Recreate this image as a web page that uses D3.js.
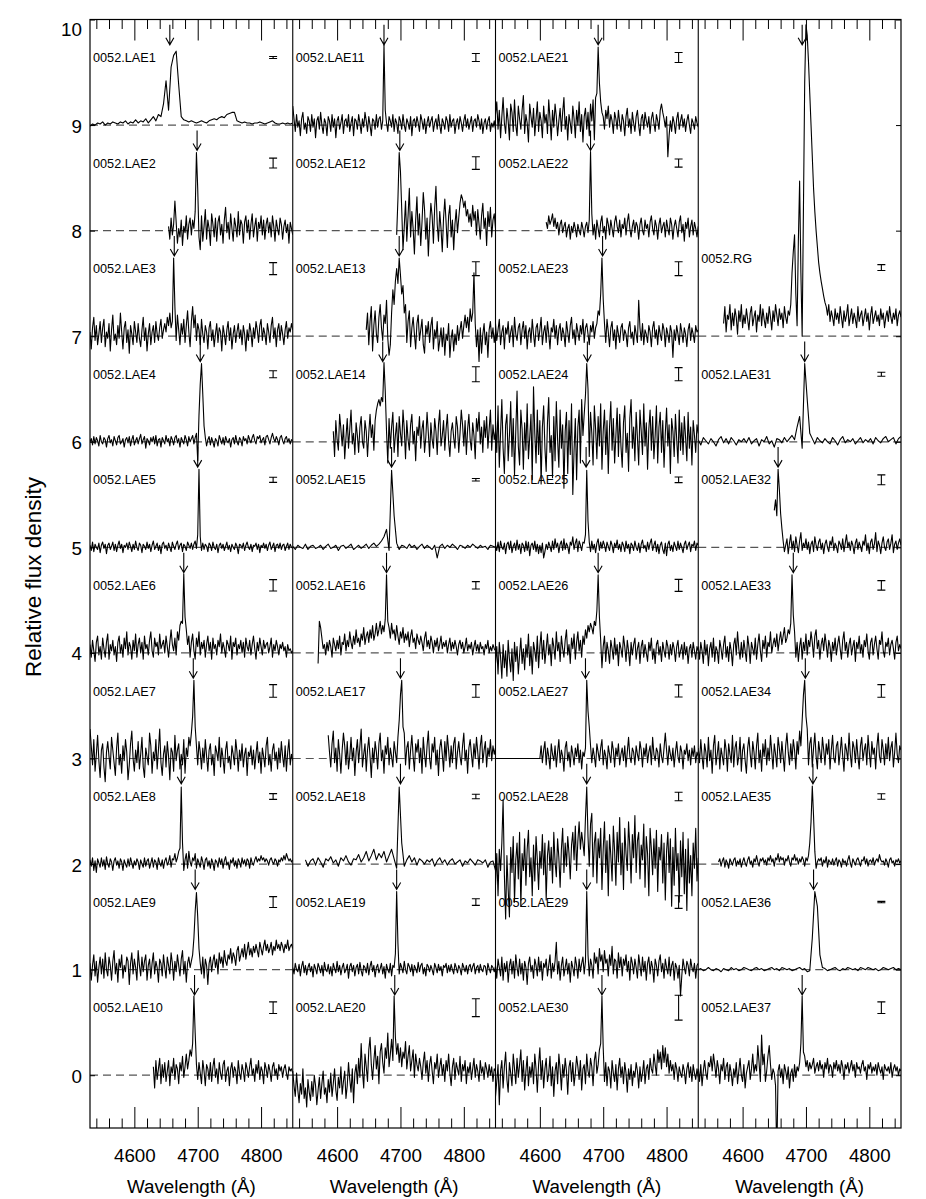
<!DOCTYPE html>
<html><head><meta charset="utf-8">
<script src="https://cdn.jsdelivr.net/npm/d3@7"></script>
<style>body{margin:0;background:#fff}svg{display:block}text{font-family:"Liberation Sans",Arial,Helvetica,sans-serif;fill:#000}</style>
</head><body><svg id="c" width="926" height="1199"></svg>
<script>
// ---------------- data ----------------
const names = ["0052.LAE1","0052.LAE2","0052.LAE3","0052.LAE4","0052.LAE5","0052.LAE6","0052.LAE7","0052.LAE8","0052.LAE9","0052.LAE10",
"0052.LAE11","0052.LAE12","0052.LAE13","0052.LAE14","0052.LAE15","0052.LAE16","0052.LAE17","0052.LAE18","0052.LAE19","0052.LAE20",
"0052.LAE21","0052.LAE22","0052.LAE23","0052.LAE24","0052.LAE25","0052.LAE26","0052.LAE27","0052.LAE28","0052.LAE29","0052.LAE30",
"0052.RG","0052.LAE31","0052.LAE32","0052.LAE33","0052.LAE34","0052.LAE35","0052.LAE36","0052.LAE37"];
const panelOf = [0,0,0,0,0,0,0,0,0,0, 1,1,1,1,1,1,1,1,1,1, 2,2,2,2,2,2,2,2,2,2, 3,3,3,3,3,3,3,3];
const baselines = [9,8,7,6,5,4,3,2,1,0, 9,8,7,6,5,4,3,2,1,0, 9,8,7,6,5,4,3,2,1,0, 7,6,5,4,3,2,1,0];
// wavelength (Å) of the Lyα line marked by the arrow
const lineWave = [4656,4699,4663,4704,4700,4678,4693,4674,4696,4695,
4674,4699,4698,4672,4686,4678,4700,4700,4694,4691,
4692,4680,4699,4675,4673,4692,4672,4674,4674,4698,
4694,4698,4656,4680,4699,4711,4712,4694];
// arrow tip height above the baseline (flux units)
const arrowLevel = [0.76,0.76,0.76,0.76,0.76,0.76,0.76,0.76,0.76,0.76, 0.76,0.76,0.76,0.76,0.76,0.76,0.76,0.76,0.76,0.76,
0.76,0.76,0.76,0.76,0.76,0.76,0.76,0.76,0.76,0.76, 2.76,0.76,0.76,0.76,0.76,0.76,0.76,0.76];
// half-size of the 1-sigma error bar (flux units)
const errHalf = [0.01,0.047,0.057,0.033,0.024,0.054,0.06,0.027,0.052,0.055,
0.038,0.06,0.066,0.071,0.012,0.035,0.06,0.021,0.031,0.085,
0.047,0.038,0.066,0.062,0.027,0.057,0.057,0.04,0.06,0.118,
0.028,0.019,0.047,0.045,0.06,0.026,0.007,0.055];
// first wavelength of each spectrum (Å) and sampling step (Å)
const startWave = [4530,4654,4530,4530,4530,4530,4530,4530,4530,4630,
4530,4694,4646,4594,4530,4570,4586,4550,4530,4530,
4530,4610,4530,4530,4530,4530,4530,4530,4530,4530,
4570,4530,4650,4530,4530,4562,4530,4530];
const sampleStep = [4,2,2,2,2,2,2,2,2,2, 2,2,2,2,4,2,2,4,2,2, 2,2,2,2,2,2,2,2,2,2, 2,4,2,2,2,2,4,2];
// relative flux above baseline, in units of 0.01
const flux = [
[-1,1,0,2,1,3,0,2,1,3, 2,1,3,2,4,1,3,2,5,2, 4,3,6,2,5,8,4,10,8,20, 42,14,55,66,70,38,8,5,4,3, 4,3,2,3,4,3,2,4,5,6, 5,7,8,7,10,11,12,12,4,3, 2,3,2,2,1,2,2,3,2,1, 2,3,4,2,1,1,2,1,2,1, 2],
[4,-8,12,-4,6,28,8,-12,2,-6, 10,-14,4,-2,14,-8,6,12,-4,10, 2,18,74,40,-6,-18,14,-10,4,20, -8,10,2,-14,16,6,-6,12,-10,8, 14,-4,6,-12,10,22,-2,8,-8,16, 2,-10,12,4,-6,18,-4,10,6,-12, 8,14,-2,10,-8,6,16,-6,4,12, -10,8,2,14,-4,10,-8,6,12,-2, 8,-6,14,4,-10,10,2,-4,12,6, -8,4,10,-2,6,-12,8,2,-4],
[4,-12,8,18,-4,10,-8,2,14,-6, 8,16,-10,4,-2,12,-14,6,20,-4, 2,-8,10,-2,22,4,-12,8,14,-6, 6,-16,10,2,-8,14,4,-6,12,-2, -10,6,18,-4,8,-14,2,12,-8,4, 10,-6,14,2,-4,8,16,-2,6,12, 4,18,10,22,8,14,74,28,-4,20, 6,-8,12,2,16,-6,10,24,4,-10,
 14,28,8,20,-4,12,6,-8,16,2, -6,10,4,-12,8,14,-4,6,-10,2, 12,-6,8,4,-14,10,2,-8,6,14, -4,8,-12,2,10,-6,4,12,-2,6, -8,10,2,-14,6,-4,12,4,-10,8, -2,14,6,-6,10,16,-4,8,2,-8, 12,4,-6,10,18,-2,8,-10,6,12, -4,10,2,-8,6,14,-2,8,4,12,6],
[0,3,-3,5,-2,4,1,-4,6,0, -2,4,2,-5,3,6,-1,2,-4,5, 1,-3,4,6,-2,0,3,-5,2,4, -1,5,-4,2,6,-3,1,4,-2,3, 7,-2,2,5,-6,3,1,-3,4,0, 5,-2,6,-4,2,3,-5,4,1,-2, 6,0,3,-4,5,2,-3,4,6,-1, 3,-5,4,1,-2,6,2,-4,5,0,
 3,6,-2,4,8,-18,25,55,74,45, 15,4,-4,2,5,-3,4,0,-5,3, 1,-4,6,2,-2,4,-3,5,1,-1, 3,-5,2,4,-2,6,0,-3,4,2, -4,5,1,3,-2,6,2,-1,4,7, 1,-2,5,3,6,-1,2,4,-3,5, 6,2,-2,4,8,3,0,5,2,-3, 4,6,1,-2,3,5,0,3,-2,2,1],
[2,-3,5,-4,3,0,-2,4,-5,2, 5,-1,3,-6,2,4,-2,1,5,-3, 3,-4,2,6,-1,3,-5,2,0,4, -2,5,1,-4,3,-2,6,0,-3,4, 2,-5,3,1,-2,5,-1,3,-4,2, 6,-2,1,4,-3,2,-6,3,5,-1, 2,-3,4,0,-4,5,1,-2,3,6, -2,2,4,-4,3,1,-3,5,2,-1,
 4,-2,3,6,-1,12,74,10,-3,4, -2,3,1,-4,4,2,-3,5,0,-2, 3,-5,2,4,-1,3,-3,1,5,-2, 2,-4,3,0,-2,4,1,-6,3,2, -1,4,-3,2,5,0,-2,3,-4,2, 1,4,-2,3,-5,2,0,4,-1,3, -3,2,5,-2,1,4,-4,2,3,-1, 4,-2,2,3,-3,1,4,-2,3,0,-1],
[8,-4,12,2,-8,10,16,-2,6,-6, 14,4,-4,10,18,-6,8,2,12,-2, 6,-8,10,16,0,8,-4,14,4,20, -2,10,6,-6,12,2,18,-4,8,14, 0,10,-6,16,4,8,-2,12,20,2, -4,14,6,10,-2,18,4,8,12,0, 16,6,-4,10,22,8,2,14,-2,20, 12,26,30,28,75,34,22,8,16,-4,
 10,18,2,-6,14,6,20,-2,10,4, 12,-4,8,16,2,10,-6,14,4,8, -2,12,6,18,0,10,4,-4,12,8, 2,16,-6,10,6,14,-2,8,4,12, 0,10,-4,14,6,2,12,-2,8,16, 4,-6,10,2,14,6,-2,12,4,8, 10,0,6,14,-4,8,2,12,6,-2, 8,4,10,2,6,-4,8,2,4,0,2],
[28,12,-6,18,-12,4,22,-2,-18,8, 14,-8,-22,6,16,2,-10,20,8,-4, -16,10,24,-6,4,-14,12,-2,18,6, -20,-6,14,26,0,-12,8,-4,16,-10, 4,20,-8,-18,10,2,-6,24,12,-14, 6,-2,18,-10,8,28,-4,-16,4,12, -8,16,2,-20,10,6,-12,22,-2,8, 14,-10,4,-6,18,-14,10,2,20,12,
 24,40,74,30,12,-6,16,6,-10,10, -4,18,2,-12,8,14,-6,4,-16,12, 6,-2,20,-8,10,0,-14,8,16,-4, 2,-10,12,4,-6,18,6,-12,8,-2, 14,-8,4,10,-16,6,2,12,-6,8, -10,4,16,-4,6,-14,10,2,-8,12, 20,-6,4,-12,8,14,-2,6,-10,10, -4,16,2,-8,12,-12,6,18,-6,4,-2],
[4,-2,6,-6,3,-8,5,1,-3,6, -2,4,-5,7,0,-3,5,2,-6,3, 6,-1,3,-4,5,2,-6,4,0,-3, 5,-2,6,1,-4,3,-1,5,2,-5, 4,0,-3,6,-2,3,5,-4,1,6, -3,4,2,-5,6,1,-2,4,-4,3, 6,-1,2,8,-3,5,4,10,2,6, 12,15,73,20,-6,4,10,-4,12,2,
 -2,6,3,10,-4,5,1,-3,7,2, -5,4,6,-2,3,-4,5,1,-6,4, 2,-3,6,0,5,-4,3,7,-1,2, -5,4,1,6,-2,3,-4,5,2,-3, 6,0,4,-2,5,3,-4,6,1,-1, 4,7,2,5,3,8,4,6,2,5, 3,-1,4,6,2,0,5,3,-2,4, 2,6,3,8,4,10,6,3,5,2,4],
[6,-10,4,14,-6,8,-12,2,12,-4, 10,-8,16,0,-6,12,4,-10,8,18, -4,6,-12,10,2,14,-8,4,-2,12, 8,-14,6,16,-4,10,2,-10,18,4, -6,12,-2,8,14,-10,4,10,-8,6, 16,-4,8,2,-12,10,6,-6,14,2, -8,12,4,-4,16,6,-10,8,-2,14, 4,-6,10,18,-4,8,-12,6,12,2,
 8,14,30,55,73,50,20,6,-4,12, -8,10,4,-14,6,12,-2,8,14,2, 10,-4,16,6,12,2,18,8,4,14, 10,20,6,16,12,4,18,22,8,14, 20,12,24,10,18,26,14,20,12,22, 16,24,18,12,26,20,14,22,28,18, 24,16,20,26,14,22,18,28,20,24, 18,26,22,16,24,20,28,18,22,24,20],
[8,-12,14,-4,6,16,-8,10,-2,12, -6,4,14,-10,8,2,16,-4,10,6, -8,12,4,18,-2,8,20,6,14,24, 18,30,75,40,10,-4,12,2,-8,14, 4,-10,10,6,-4,12,-6,8,16,-2, 6,-8,12,2,-4,10,14,-6,4,8, -10,6,12,-2,8,4,-8,14,2,-4, 10,4,-6,12,6,-2,8,16,0,6, -6,10,2,14,-4,8,4,-8,12,6, -2,10,4,-6,8,12,0,6,-4,10, 4,8,-2,6,10,2,-4,8,4,6,2],
[18,6,-6,10,-2,4,-10,6,12,-4, 2,-8,8,4,-6,10,-2,6,-12,4, 8,-4,12,0,-8,6,2,-10,8,4, -6,10,-2,6,-12,4,8,-4,2,10, -8,4,6,-2,10,-6,2,8,-10,6, 4,-4,10,2,-8,6,-2,12,4,-6, 8,0,-10,6,4,-4,10,-2,6,8, -4,4,76,14,2,-6,8,4,-2,10,
 -6,6,2,-8,8,4,-4,10,0,-6, 6,2,-4,8,-10,4,6,-2,8,2, -6,10,4,-4,6,-8,2,8,-2,4, 8,-6,2,6,-4,10,0,-8,6,2, -4,8,4,-6,10,-2,4,6,-8,2, 6,-4,8,2,-6,4,10,-2,6,-4, 2,8,-6,4,6,-2,10,4,-4,6, -8,2,6,-4,4,8,-6,2,-2,4,-4],
[-4,30,74,56,20,-18,4,28,-10,14, 40,-6,18,2,-22,10,32,-4,16,-14, 8,36,20,-8,12,-24,4,26,14,-12, 22,42,6,-10,18,2,-20,12,30,8, -16,14,24,-6,10,-18,6,20,-2,12, 26,34,30,22,28,14,20,8,16,4, 24,10,18,-4,20,6,-8,14,26,2, 12,-14,18,4,22,-6,10,16,2],
[6,22,-8,14,28,-14,10,24,2,-6, 18,30,8,-4,20,12,34,-2,-18,-8, 22,44,30,52,64,50,74,58,40,48, 22,30,-6,14,24,-10,8,18,2,-12, 12,20,-4,6,16,-8,-16,10,2,14, -6,10,18,-12,6,-2,14,-14,-4,8, -10,8,-18,2,-4,12,-20,-2,6,-14, 2,-8,10,-4,6,14,-2,10,20,8, 18,4,26,14,22,60,12,-10,6,-24, 8,-16,2,12,-8,4,-20,6,14,-2, 8,-6,4],
[10,-14,20,2,-8,26,12,-4,16,-16, 4,22,-6,12,30,-2,8,-12,18,6, -10,14,24,0,-6,20,10,-14,8,26, 4,16,-8,20,30,36,40,34,42,38, 75,48,10,-20,22,-6,14,28,-10,6, 18,-14,24,8,-4,30,12,-16,20,2, -8,16,26,-2,10,-18,14,6,24,-6, 12,20,-10,4,28,8,-14,18,2,-6, 22,10,-12,16,30,-4,6,20,-8,12, 26,0,-14,10,18,4,-6,24,14,-10, 8,30,16,-4,20,-12,12,26,2,-8, 18,6,-16,22,10,28,-2,14,-10,20, 4,24,-6,12,30,-8,16,2,10],
[1,-2,2,0,-1,3,-2,1,2,-1, 0,2,-2,1,3,-1,0,2,-3,1, 2,-1,1,3,-2,0,2,-1,1,3, -1,2,4,1,3,6,10,17,-3,73, 30,4,-2,2,1,-1,3,0,2,-2, 1,3,-1,2,0,-2,2,-10,1,3, -1,2,0,3,1,-2,2,1,-1,2, 0,3,1,-1,2,0,1,-2,2,1,0],
[-10,30,24,14,4,8,-2,10,2,12, 6,-4,14,8,2,12,4,16,-2,10, 8,18,2,12,6,20,10,4,16,8, 22,10,14,6,18,12,24,8,16,20, 10,22,14,26,12,18,28,16,22,30, 18,26,20,32,74,30,24,14,28,18, 22,12,26,16,8,20,14,24,10,18, 12,20,6,16,22,10,14,4,18,12, 8,16,10,2,14,20,6,12,4,16, 10,0,12,6,14,2,8,16,4,10, 6,12,0,8,14,2,10,4,12,6, -2,8,12,4,10,0,6,14,2,8, 4,10,-2,6,12,2,8,0,10,4, 6,-2,8,4,12,0,6,2,8,4,2],
[22,6,-8,14,26,-4,10,-12,18,4, -14,8,24,12,-6,16,-10,2,20,-2, 10,-16,6,18,-4,12,28,-8,4,14, -12,8,20,2,-18,10,-4,16,6,-10, 14,24,-2,8,-14,12,4,20,-6,10, 2,-8,16,6,-4,20,36,60,74,30, 24,-6,10,16,-10,8,22,2,-12,14, 6,18,-4,10,-14,20,4,-8,12,26, 0,-10,14,6,20,-6,8,-16,10,18, 4,-12,16,-2,22,8,-8,12,-4,14, 20,-10,6,16,2,-6,12,24,-2,8, -14,10,18,4,-8,14,0,20,6,-10, 12,22,-4,8,16,-8,10,2,18,-2, 12,4,10],
[4,-2,3,5,-1,6,2,-3,5,3, 7,1,4,-2,6,3,8,2,-1,5, 4,9,2,6,12,3,8,14,4,10, 6,12,2,8,14,5,-4,73,20,-2, 4,8,2,6,-1,5,3,0,4,2, 5,-2,3,6,1,4,-1,3,5,0, 2,4,-2,3,1,5,2,-1,4,3, 1,4,-3,2,3,-6],
[2,-4,6,0,-2,5,-6,3,8,-3, 4,-5,2,6,-2,3,-7,5,1,-4, 6,2,-3,4,-6,7,0,-2,5,-4, 3,-6,6,1,-3,8,-2,4,-5,2, 6,-3,0,5,-8,3,6,-2,4,-6, 2,5,-4,7,-1,-6,4,2,-3,6, -5,3,8,-2,4,-7,2,5,-3,1, 6,-4,3,-8,5,0,-3,6,-6,4,
 2,15,74,25,-4,6,2,-3,8,0, -4,6,3,-2,5,-6,4,1,-3,7, -2,4,6,-4,2,-6,5,3,-2,4, 0,-5,6,2,-3,5,-1,3,-6,4, 2,6,-3,4,-2,5,0,-4,6,2, -3,4,1,-5,6,2,-2,4,-4,3, 5,-2,3,6,-4,2,4,-3,5,0, -2,4,3,-5,6,1,-3,4,2,-2,3],
[4,-10,-20,2,-14,-26,-8,-18,6,-22, -12,-30,-4,-16,-24,-6,-20,0,-10,-28, -14,-2,-22,-8,4,-18,-12,-26,-4,-16, 2,-20,-8,6,-14,-24,-2,-12,8,-18, -6,4,-22,-10,12,-4,-16,6,-26,2, 10,-8,16,-2,30,4,-12,20,8,-6, 24,36,10,-4,14,28,6,18,-8,22, 30,12,2,26,16,40,8,20,34,14,
 75,36,20,30,12,26,8,22,16,32, 6,18,28,4,14,24,-2,20,10,4, 16,8,-4,12,22,2,14,-6,10,18, 4,-8,12,6,20,-2,8,16,0,10, -6,14,4,20,2,-10,8,16,-4,12, 6,0,18,-6,10,4,14,-8,8,2, 12,-4,6,16,-2,10,4,-6,14,2, 8,-4,12,6,-2,10,0,8,-6,6,4],
[10,22,-4,14,-12,8,26,2,-8,16, 4,-14,20,12,-6,24,0,-10,18,6, -4,14,28,-8,10,2,-16,20,8,-2, 16,-10,6,22,-6,12,4,-12,18,2, 10,-8,24,6,-14,14,-2,20,8,-10, 4,16,-6,12,26,-4,8,-14,10,2, -8,18,6,-12,14,0,22,-6,10,-16, 8,16,-4,12,-10,20,4,24,-14,26,
 30,74,40,22,12,8,-4,14,6,18, -2,10,4,-8,12,6,-4,14,2,-6, 10,4,-10,8,16,-2,6,-8,12,2, -6,8,14,0,-10,6,10,-4,12,4, -2,8,-8,6,12,2,-6,10,4,-4, 14,20,12,6,-2,8,-30,-10,4,-6, 8,2,-8,6,12,-4,4,10,-2,6, -6,4,10,0,-8,6,2,-4,8,2,-2],
[8,2,14,6,10,16,4,12,2,8, -4,6,10,-2,4,8,-6,2,6,-8, 4,-2,8,2,-6,6,0,-4,8,2, -6,4,8,-2,10,75,16,-4,6,-8, 10,2,-6,8,14,-2,4,-8,12,6, -4,10,2,-6,8,14,4,-2,10,-6, 6,2,12,-4,8,16,2,-6,4,10, -2,8,4,-8,6,12,0,-4,10,2, 6,-6,8,14,2,-4,10,4,-8,6, 12,-2,4,8,-6,10,2,-4,12,6, -8,4,10,2,-6,8,14,-2,6,-10, 8,2,12,-6,4,10,-4,8,2,-6,4],
[12,-4,6,16,-8,4,10,-12,8,2, 14,-6,4,10,-10,18,2,-4,8,12, -8,6,14,-2,10,-12,4,8,-6,16, 2,-10,8,12,-4,6,18,-8,4,10, -6,14,2,-12,8,4,16,-2,10,-8, 6,12,-4,8,2,-10,14,4,-6,10, 18,-2,6,-8,12,4,-4,10,2,16, -6,8,12,2,-8,10,4,14,-2,8,
 12,24,20,40,74,35,12,-6,16,4, -10,8,14,-4,6,-12,10,2,-6,8, 12,-4,6,2,-10,8,14,-2,4,-8, 10,2,-6,34,8,-4,12,-8,6,2, -6,10,4,-10,8,14,-2,6,-8,10, 2,-4,12,6,-10,8,2,-6,10,4, -20,6,-4,10,2,-8,12,4,-6,8, 2,-10,6,12,-4,8,2,-6,10,4,6],
[20,-10,34,-24,8,40,-6,-30,16,26, -18,6,38,-14,22,-32,10,48,-4,-22, 30,12,-26,18,-8,36,-16,4,26,-36, 52,8,-20,30,-12,20,-40,14,34,-6, -28,18,42,-10,6,-34,24,-18,38,2, -24,30,-6,16,-44,10,28,-30,20,-12, 36,-50,-8,22,-36,14,30,-20,40,6, 26,44,74,50,-14,28,8,-22,34,12,
 -16,24,-4,36,-26,10,30,-12,20,-30, 14,38,-8,22,-20,6,32,-14,26,-4, -24,18,34,-10,8,-28,22,40,-6,14, -18,28,4,-22,30,10,-12,36,-4,18, -26,12,30,-8,24,-16,6,34,-20,14, 28,-10,20,-24,8,32,-4,16,-30,22, 10,-14,26,2,-20,30,-8,18,-12,24, 4,-18,28,-6,14,-22,20,6,-10,16,8],
[2,-3,5,-4,6,0,-2,4,-6,3, 5,-2,6,-5,1,4,-3,7,-2,3, -6,4,2,-4,6,-3,5,-8,2,4, -2,6,-4,3,-6,2,-5,4,-10,-4, 3,-2,5,1,-4,6,-2,8,0,4, -5,3,6,-3,8,-2,4,1,-6,5, 2,10,-2,4,8,-4,6,2,-3,5, 4,12,73,25,5,-4,6,-2,3,-5,
 4,8,-3,5,-1,6,2,-4,5,1, -3,6,2,-5,4,0,7,-2,3,-4, 5,2,-4,6,-1,3,-6,4,2,-3, 6,0,-3,4,-5,3,7,-1,2,-4, 5,-2,4,8,-3,2,6,-4,3,-6, 2,5,-2,-6,4,-8,3,6,-3,2, -4,5,1,-3,6,-2,4,0,-5,3, 6,-2,2,5,-4,3,1,6,-3,4,2],
[-10,6,-20,10,-4,-24,8,-14,2,-22, 12,-6,-18,4,-26,10,-8,6,-20,-2, 14,-10,4,-16,8,-4,18,-12,6,-20, 10,2,-8,16,-14,6,20,-6,12,-10, 4,18,-2,8,-12,14,6,-6,20,2, 10,-8,16,4,-4,12,22,-2,8,-10, 14,4,18,-6,10,20,2,12,-4,16, 8,22,14,26,20,28,24,18,30,26,
 40,74,34,12,-14,6,16,-8,10,2, -10,12,4,-6,14,-2,8,-12,10,4, -4,16,6,-8,12,2,-12,10,-2,8, 14,-6,4,10,-10,6,12,-4,8,0, -8,10,2,14,-6,4,-10,8,12,-2, 6,-8,10,2,-4,12,6,-6,8,-2, 10,4,-8,6,12,-4,2,8,-6,10, -2,6,-10,4,8,-4,10,2,-6,6,2],
[0,0,0,0,0,0,0,0,0,0, 0,0,0,0,0,0,0,0,0,0, 0,0,0,0,0,0,0,0,0,0, 0,0,0,0,0,0,12,-4,8,16, -6,10,2,-10,14,4,-2,12,-8,6, 18,-4,8,2,-12,10,16,-2,6,-8, 12,4,-6,10,2,14,-4,8,-10,6, 2,10,74,45,30,12,-4,10,2,-8,
 14,6,-2,10,18,-6,8,2,-10,12, 4,-4,16,8,-8,10,2,14,-6,4, 10,-2,12,-8,6,20,2,-4,10,6, -6,12,4,-2,16,8,-8,10,2,14, -4,6,12,-6,20,4,-2,10,6,-8, 14,2,-4,10,24,8,-6,12,4,-2, 10,-8,6,16,2,-4,12,6,-10,8, 4,14,-2,8,-6,10,2,12,-4,6,2],
[-20,10,-30,14,-6,20,61,-10,-52,8, -24,-50,16,-8,26,-36,4,20,-14,30, -40,10,-6,24,-20,14,32,-12,6,-30, 18,-16,26,4,-24,12,-4,28,-10,20, -34,8,22,-6,16,-18,30,2,-12,24, 6,-22,14,34,-8,20,-2,26,10,-14, 18,30,4,36,-6,22,40,14,30,20, 8,44,73,26,-2,38,48,-12,20,30,
 -18,24,6,34,-24,14,40,-8,22,-30, 28,8,-16,36,12,-20,30,2,44,-10, 20,-24,34,10,-6,40,16,-18,28,6, 46,-8,22,30,-14,18,4,38,-22,26, 10,-30,34,14,-10,24,-4,32,-26,16, 4,28,-18,20,-34,12,30,-8,24,-40, 16,-20,34,-6,10,-36,22,-12,30,-28, 14,-44,24,-18,8,-30,20,-4,34,-16,6],
[4,-8,10,2,-6,12,-10,6,-2,8, -12,4,10,-4,8,-8,14,2,-6,10, -4,6,-10,8,2,-14,6,12,-2,4, -8,10,4,-6,12,-2,8,-10,6,2, 10,-6,4,14,-8,6,-2,8,26,-4, 8,-10,4,12,-6,2,10,-4,6,-12, 8,2,-6,12,4,-8,10,-2,6,12, -4,8,74,14,-6,10,4,-8,16,6,
 12,-4,20,8,14,-2,18,6,10,-6, 14,4,22,-4,10,8,-8,16,2,12, -6,10,4,14,-2,8,-10,12,6,-4, 10,2,-8,14,4,-6,12,-2,8,-10, 6,12,-4,8,2,-12,10,4,-6,8, 14,-2,6,-8,10,2,-4,12,-6,4, 8,-10,6,2,-8,4,-25,-6,10,2, -4,8,4,-6,10,2,-2,6,-8,4,6],
[-20,-6,10,-28,4,14,-12,8,22,-4, -16,12,2,-10,20,6,-8,16,-2,10, 24,-6,14,-14,4,18,-10,8,-2,12, -8,20,6,-16,10,26,-4,14,-12,6, 16,-6,2,18,-10,8,-20,4,12,-8, 20,6,-14,10,-2,16,4,-18,8,14, -6,12,-10,2,18,8,-4,14,-14,6, 10,-8,20,4,-2,16,8,-10,14,22,
 2,10,24,30,75,26,-6,12,-10,8, 4,-12,14,2,-6,10,-14,6,16,-2, 8,-8,12,2,-16,6,-4,10,-10,4, -2,12,4,-12,8,-6,2,14,-8,6, 10,-4,16,6,2,20,10,0,24,12, 22,6,28,12,26,8,20,2,14,4, 10,-4,12,6,-6,8,2,-2,10,4, -8,6,12,-2,8,-6,10,2,-4,6,-2],
[12,28,4,20,16,30,6,22,10,26, 18,2,24,14,30,8,20,12,26,16, 6,22,28,10,18,24,4,20,14,30, 10,26,16,8,22,12,28,18,6,24, 14,30,20,10,26,16,22,8,28,18, 12,24,20,30,60,80,96,40,10,90, 147,60,0,120,240,295,285,260,230,200, 170,140,118,100,85,70,60,52,45,38, 32,28,20,30,14,24,18,10,26,16, 22,12,28,18,8,24,14,20,30,10, 18,26,12,22,16,8,28,14,20,24, 10,18,26,14,22,6,20,28,12,18, 24,14,20,10,26,16,22,8,18,24, 14,28,18,12,22,16,26,10,20,24,18],
[2,-3,4,1,-2,3,0,-4,2,5, -1,3,-2,4,1,-3,2,0,3,-1, 4,-2,1,3,-4,2,0,5,-2,1, -5,3,2,-1,4,0,3,6,2,14, 24,-6,74,40,8,3,-2,4,1,-1, 3,0,-2,4,1,-3,2,5,-1,2, 0,3,-2,1,4,-1,2,0,3,-2, 4,1,-1,3,5,0,2,4,-2,3,5],
[35,45,30,74,55,32,18,6,-4,2, 8,-6,4,12,-2,6,-4,10,2,-5, 6,14,-3,4,0,8,-2,5,-6,3, 6,-4,10,2,-3,5,8,-2,4,-6, 3,7,0,-4,6,2,10,-3,4,1, -5,6,3,-2,8,-4,4,12,0,5, -3,6,2,-6,4,8,-2,5,1,-4, 6,2,12,-3,4,-6,5,8,-2,3, 14,-4,6,2,-6,4,10,0,-3,5, 8,-2,4,12,-5,3,6,-2,4,8,2],
[6,-6,10,2,-10,12,-2,8,-12,4, 10,-4,14,-8,6,2,-10,12,4,-6, 8,16,-4,6,-8,10,2,-12,8,14, -2,20,4,-6,10,-4,12,2,-8,16, 6,-10,10,4,-2,14,-6,8,18,2, -8,12,4,16,-4,10,6,20,0,8, 14,6,18,2,12,20,8,16,24,10, 14,22,18,28,74,36,20,-4,10,-8,
 6,14,-6,10,2,18,-2,12,6,20, 10,-4,16,22,4,12,-6,8,14,2, 18,8,-4,12,6,-8,10,2,14,-2, 8,16,4,-6,12,20,2,10,-4,8, 14,-2,6,12,-8,10,4,16,0,8, -4,12,6,18,2,-6,10,14,-2,8, 16,4,-6,12,8,20,2,-4,10,6, 14,-2,8,12,4,-6,10,16,2,8,4],
[10,-4,18,2,-10,14,6,-8,20,-2, 8,-14,12,22,-6,4,16,-10,10,2, -6,18,8,-12,14,4,-4,22,-8,10, 16,-6,2,20,-12,8,14,-2,-14,10, 20,4,-8,16,6,-10,12,24,-4,8, -12,14,2,18,-6,10,-2,22,6,-10, 14,4,-8,20,10,-4,16,2,-12,12, 24,6,-6,14,-2,18,8,-10,16,4,
 26,12,36,60,74,40,28,-6,14,20, -8,10,24,2,-10,16,6,-4,20,8, -6,14,4,18,-10,8,22,0,-4,12, 16,-6,6,20,2,-12,14,8,-2,24, 4,-8,16,10,-4,18,2,-10,12,20, -2,8,14,-6,22,6,-8,16,4,10, -10,12,24,2,-4,18,8,-6,14,0, 20,-2,10,16,-8,6,24,4,-4,12,8],
[2,5,-2,3,6,-3,4,1,-4,5, 2,-1,4,6,-2,3,0,5,-3,2, 6,1,-2,4,7,0,3,-3,5,2, 8,2,-2,5,3,6,1,4,-1,6, 3,8,2,5,-2,6,4,10,2,7, 4,6,-1,5,3,8,2,-2,6,4, 9,3,6,0,5,2,7,4,-2,6, 3,8,20,40,74,45,12,-4,2,5, 3,6,-2,4,1,7,-3,4,2,0, 5,-1,3,6,-2,4,2,-3,5,1, 3,-2,4,8,1,-3,5,2,-1,4, 6,2,-2,4,3,7,0,5,-2,3, 4,1,6,-1,3,5,2,9,4,2, 3,-1,5,2,-3,4,6,1,3,-2, 4,2,5,1,3],
[0,1,-1,0,2,0,-1,1,0,-2, 1,0,-1,2,0,1,-1,0,2,1, 0,-1,1,2,0,1,-1,0,1,2, 0,1,-1,2,1,0,1,-1,0,1, 2,0,1,-2,-1,30,74,60,14,2, 1,-1,0,1,2,0,-1,1,0,2, 1,0,1,-1,2,1,0,2,1,0, 1,-1,0,2,1,0,1,2,0,1,0],
[6,-6,10,-10,4,14,2,-4,12,8, 18,4,20,10,-2,14,6,-8,10,4, 16,-4,8,12,-6,10,2,-10,6,-2, 12,-8,4,16,0,-6,10,-12,2,8, 14,-4,6,20,2,10,4,28,12,-6, 38,10,20,-6,4,18,28,10,-4,6, 2,-10,-80,4,10,-2,6,-8,10,4, -4,8,-12,2,6,-6,10,-2,8,4,
 12,30,75,22,18,8,14,4,12,6, 10,16,2,8,12,4,14,6,10,-2, 12,6,16,2,10,8,-2,12,6,14, 4,10,2,14,8,-4,10,6,12,2, 8,14,4,10,-2,12,6,8,2,10, 14,4,8,-4,10,6,12,2,8,4, 10,0,12,6,2,8,-4,10,6,4, 8,2,12,-2,6,10,4,8,0,6,4]
];
const xTickLabels = ["4600","4700","4800"];
const xMajor = [4600,4700,4800];
const yTickValues = [0,1,2,3,4,5,6,7,8,9,10];
const xTitle = "Wavelength (Å)";
const yTitle = "Relative flux density";
const errWave = 4819;

// ---------------- layout ----------------
const svg = d3.select("#c");
svg.append("rect").attr("width",926).attr("height",1199).attr("fill","#fff");
const LEFT = 90, PW = 202.75, TOP = 19.5, BOT = 1128, NP = 4;
const RIGHT = LEFT + NP*PW;
const y = d3.scaleLinear().domain([-0.5,10]).range([BOT,TOP]);
const xs = d3.range(NP).map(p => d3.scaleLinear().domain([4530,4850]).range([LEFT+p*PW, LEFT+(p+1)*PW]));
const FS = 18.8;

const defs = svg.append("defs");
xs.forEach((x,p)=>{
  defs.append("clipPath").attr("id","clip"+p).append("rect")
    .attr("x",x.range()[0]).attr("y",TOP).attr("width",PW).attr("height",BOT-TOP);
});

const idx = d3.range(names.length);
// dashed zero lines
idx.forEach(i=>{
  const x = xs[panelOf[i]];
  svg.append("line").attr("x1",x.range()[0]).attr("x2",x.range()[1])
    .attr("y1",y(baselines[i])).attr("y2",y(baselines[i]))
    .attr("stroke","#555").attr("stroke-width",1.2).attr("stroke-dasharray","8,5");
});

// spectra
idx.forEach(i=>{
  const p = panelOf[i], x = xs[p], b = baselines[i], st = sampleStep[i];
  const line = d3.line().x((v,k)=>x(startWave[i]+k*st)).y(v=>y(b+v/100));
  svg.append("path").attr("clip-path",`url(#clip${p})`).attr("d",line(flux[i]))
    .attr("fill","none").attr("stroke","#000").attr("stroke-width",1.1).attr("stroke-linejoin","round");
});

// arrows, labels, error bars
idx.forEach(i=>{
  const p = panelOf[i], x = xs[p], b = baselines[i];
  const ax = x(lineWave[i]), tip = y(b+arrowLevel[i]);
  svg.append("path").attr("d",`M${ax},${tip-20}V${tip}M${ax-4},${tip-7}L${ax},${tip}L${ax+4},${tip-7}`)
    .attr("fill","none").attr("stroke","#000").attr("stroke-width",1.1);
  const isRG = names[i]==="0052.RG";
  const ly = y(b + (isRG?0.74:0.64));
  svg.append("text").attr("x",x.range()[0]+3).attr("y",ly+4.6).attr("font-size",12.7).text(names[i]);
  const ey = y(b + (isRG?0.65:0.64)), ex = x(errWave), h = errHalf[i]*(y(0)-y(1));
  svg.append("path").attr("d",`M${ex-4},${ey-h}H${ex+4}M${ex},${ey-h}V${ey+h}M${ex-4},${ey+h}H${ex+4}`)
    .attr("fill","none").attr("stroke","#000").attr("stroke-width",1.1);
});

// axes
xs.forEach((x,p)=>{
  const minor = d3.range(4540,4850,20).filter(v=>!xMajor.includes(v));
  const gb = svg.append("g").attr("transform",`translate(0,${BOT})`)
    .call(d3.axisBottom(x).tickValues(xMajor).tickSize(-21).tickFormat((d,k)=>xTickLabels[k]));
  gb.select(".domain").remove();
  gb.selectAll("text").attr("y",33.5).attr("dy",null).attr("font-size",FS).attr("font-family",null);
  const gbm = svg.append("g").attr("transform",`translate(0,${BOT})`)
    .call(d3.axisBottom(x).tickValues(minor).tickSize(-9.5).tickFormat(""));
  gbm.select(".domain").remove();
  const gt = svg.append("g").attr("transform",`translate(0,${TOP})`)
    .call(d3.axisTop(x).tickValues(xMajor).tickSize(-21).tickFormat(""));
  gt.select(".domain").remove();
  const gtm = svg.append("g").attr("transform",`translate(0,${TOP})`)
    .call(d3.axisTop(x).tickValues(minor).tickSize(-9.5).tickFormat(""));
  gtm.select(".domain").remove();
  svg.append("text").attr("x",(x.range()[0]+x.range()[1])/2).attr("y",1192.5)
    .attr("text-anchor","middle").attr("font-size",FS).text(xTitle);
});
const gl = svg.append("g").attr("transform",`translate(${LEFT},0)`)
  .call(d3.axisLeft(y).tickValues(yTickValues).tickSize(-5).tickPadding(8).tickFormat(d3.format("d")));
gl.select(".domain").remove();
gl.selectAll("text").attr("dy",null).attr("y",d=>d===10?15.5:7).attr("font-size",FS).attr("font-family",null);
const gr = svg.append("g").attr("transform",`translate(${RIGHT},0)`)
  .call(d3.axisRight(y).tickValues(yTickValues).tickSize(-5).tickFormat(""));
gr.select(".domain").remove();
svg.selectAll(".tick line").attr("stroke","#000").attr("stroke-width",1);

// frame and panel separators
svg.append("rect").attr("x",LEFT).attr("y",TOP).attr("width",RIGHT-LEFT).attr("height",BOT-TOP)
  .attr("fill","none").attr("stroke","#000").attr("stroke-width",1.2);
d3.range(1,NP).forEach(p=>{
  svg.append("line").attr("x1",LEFT+p*PW).attr("x2",LEFT+p*PW).attr("y1",TOP).attr("y2",BOT)
    .attr("stroke","#000").attr("stroke-width",1.1);
});
svg.append("text").attr("transform",`translate(41,577) rotate(-90)`).attr("text-anchor","middle")
  .attr("font-size",22.5).text(yTitle);
</script></body></html>
